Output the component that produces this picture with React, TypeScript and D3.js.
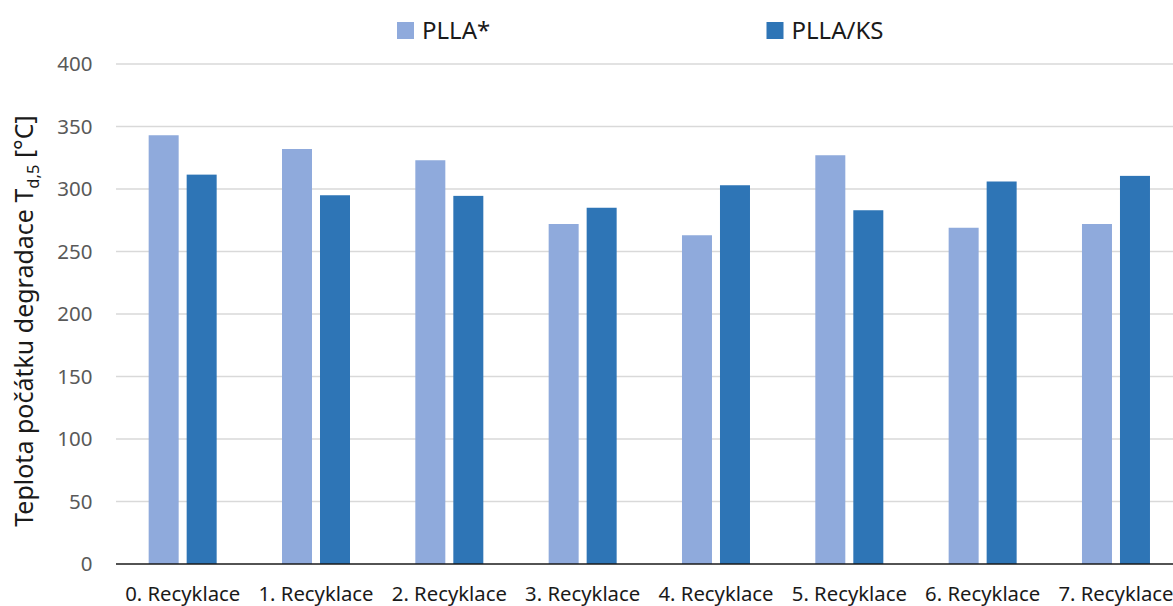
import React from "react";
import * as d3 from "d3";

// categories and series values
const categories = [
  "0. Recyklace",
  "1. Recyklace",
  "2. Recyklace",
  "3. Recyklace",
  "4. Recyklace",
  "5. Recyklace",
  "6. Recyklace",
  "7. Recyklace",
];
const seriesNames = ["PLLA*", "PLLA/KS"];
const pllaValues = [343, 332, 323, 272, 263, 327, 269, 272];
const pllaKsValues = [311.5, 295, 294.5, 285, 303, 283, 306, 310.5];
const yTicks = [0, 50, 100, 150, 200, 250, 300, 350, 400];

const colors = ["#8faadc", "#2e75b6"];

const width = 1173;
const height = 606;
const margin = { top: 64, left: 116, bottom: 564 };
const FONT = "'Noto Sans', 'Open Sans', sans-serif";

export default function App() {
  const step = 133.33;
  const x = d3
    .scaleBand<string>()
    .domain(categories)
    .range([margin.left, margin.left + step * categories.length])
    .padding(0);

  // bars inside a group: 30px wide, 8px apart
  const inner = d3
    .scaleBand<string>()
    .domain(seriesNames)
    .range([-34, 34])
    .paddingInner(8 / 38);

  const y = d3.scaleLinear().domain([0, 400]).range([margin.bottom, margin.top]);

  const series = [pllaValues, pllaKsValues];

  return (
    <svg
      width={width}
      height={height}
      style={{ position: "fixed", left: 0, top: 0, background: "#fff" }}
      fontFamily={FONT}
    >
      {/* gridlines */}
      {yTicks.map((t) =>
        t === 0 ? null : (
          <line
            key={t}
            x1={margin.left}
            x2={width}
            y1={y(t)}
            y2={y(t)}
            stroke="#d9d9d9"
            strokeWidth={1.5}
          />
        )
      )}
      {/* y tick labels */}
      {yTicks.map((t) => (
        <text
          key={"l" + t}
          x={92.5}
          y={y(t)}
          dy="0.36em"
          textAnchor="end"
          fontSize={20.5}
          fill="#595959"
        >
          {t}
        </text>
      ))}
      {/* bars */}
      {categories.map((c, i) => {
        const cx = x(c)! + x.bandwidth() / 2;
        return seriesNames.map((s, j) => (
          <rect
            key={c + s}
            x={cx + inner(s)!}
            y={y(series[j][i])}
            width={inner.bandwidth()}
            height={y(0) - y(series[j][i])}
            fill={colors[j]}
          />
        ));
      })}
      {/* x axis line */}
      <line
        x1={margin.left}
        x2={width}
        y1={y(0)}
        y2={y(0)}
        stroke="#1a1a1a"
        strokeWidth={1.5}
      />
      {/* x labels */}
      {categories.map((c) => (
        <text
          key={"x" + c}
          x={x(c)! + x.bandwidth() / 2}
          y={601}
          textAnchor="middle"
          fontSize={20.3}
          fill="#1a1a1a"
        >
          {c}
        </text>
      ))}
      {/* y axis title */}
      <text
        transform={`translate(33, 321) rotate(-90)`}
        textAnchor="middle"
        fontSize={25}
        fill="#1a1a1a"
      >
        Teplota počátku degradace T
        <tspan fontSize={16.5} dy={6}>
          d,5
        </tspan>
        <tspan dy={-6}> [°C]</tspan>
      </text>
      {/* legend */}
      {seriesNames.map((s, j) => {
        const lx = j === 0 ? 397 : 766.5;
        return (
          <g key={"lg" + s}>
            <rect x={lx} y={22} width={17} height={17} fill={colors[j]} />
            <text x={lx + 25} y={39} fontSize={24} fill="#1a1a1a">
              {s}
            </text>
          </g>
        );
      })}
    </svg>
  );
}
